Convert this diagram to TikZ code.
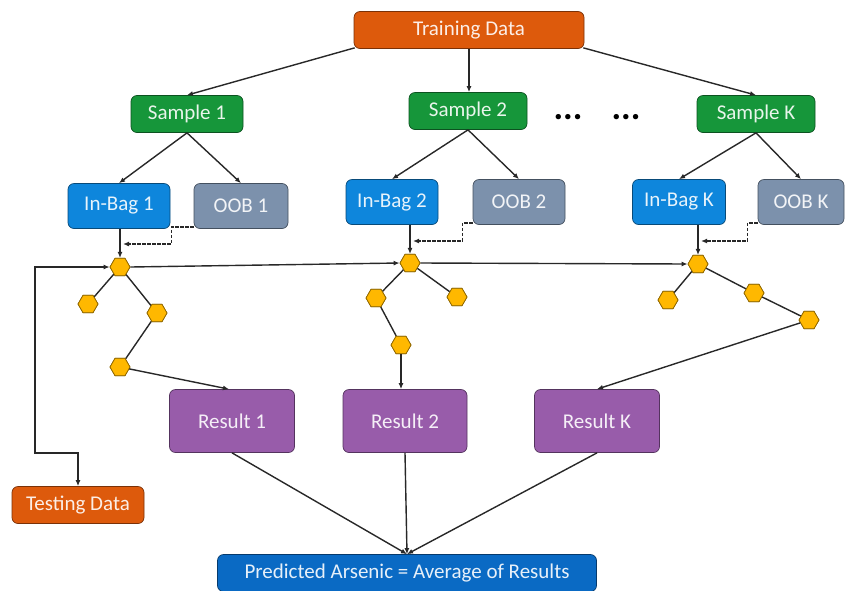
\documentclass[tikz,border=0pt]{standalone}
\usepackage{fontspec}
\setmainfont{Carlito}
\usetikzlibrary{shapes.geometric,arrows.meta,calc}
\definecolor{cOrange}{RGB}{221,90,12}
\definecolor{cGreen}{RGB}{22,150,58}
\definecolor{cBag}{RGB}{14,134,220}
\definecolor{cOob}{RGB}{124,145,172}
\definecolor{cPurple}{RGB}{152,92,170}
\definecolor{cPred}{RGB}{10,106,196}
\definecolor{cHex}{RGB}{255,184,0}
\definecolor{cLine}{RGB}{40,40,40}
\begin{document}
\begin{tikzpicture}[x=1pt,y=-1pt,
  box/.style={rounded corners=6pt, draw=#1!55!black, line width=0.7pt,
    fill=#1, text=#1!10!white, inner sep=0pt,
    font=\fontsize{21}{23}\selectfont},
  hexa/.style={regular polygon, regular polygon sides=6, minimum size=20pt,
    inner sep=0pt, fill=cHex, draw=cHex!55!black, line width=0.7pt},
  link/.style={draw=cLine, line width=1.4pt},
  arr/.style={link, -{Latex[length=6pt,width=5pt]}},
  dsh/.style={arr, dash pattern=on 3.5pt off 1.5pt, line width=1.3pt},
  dots/.style={font=\fontsize{36}{36}\selectfont\bfseries, text=black, inner sep=0pt}
]
\useasboundingbox (0,0) rectangle (845,590);

% data and sample boxes
\node[box=cOrange, minimum width=230pt, minimum height=37pt] (td) at (469,30) {Training Data};
\node[box=cGreen, minimum width=112pt, minimum height=37pt] (s1) at (187,114) {Sample 1};
\node[box=cGreen, minimum width=118pt, minimum height=37pt] (s2) at (468,111) {Sample 2};
\node[box=cGreen, minimum width=118pt, minimum height=37pt] (sK) at (756,114) {Sample K};
\node[dots] (dA) at (568,117) {...};
\node[dots] (dB) at (626,117) {...};

% in-bag and out-of-bag boxes
\node[box=cBag, minimum width=102pt, minimum height=45pt] (ib1) at (119,206) {In-Bag 1};
\node[box=cOob, minimum width=94pt, minimum height=45pt] (oob1) at (241,206) {OOB 1};
\node[box=cBag, minimum width=92pt, minimum height=45pt] (ib2) at (392,202) {In-Bag 2};
\node[box=cOob, minimum width=92pt, minimum height=45pt] (oob2) at (519,202) {OOB 2};
\node[box=cBag, minimum width=93pt, minimum height=45pt] (ibK) at (679,202) {In-Bag K};
\node[box=cOob, minimum width=86pt, minimum height=45pt] (oobK) at (801,202) {OOB K};

% decision trees
\node[hexa] (h1a) at (120,267) {};
\node[hexa] (h1b) at (88,304) {};
\node[hexa] (h1c) at (157,313) {};
\node[hexa] (h1d) at (120,367) {};
\node[hexa] (h2a) at (410,263) {};
\node[hexa] (h2b) at (376,298) {};
\node[hexa] (h2c) at (457,297) {};
\node[hexa] (h2d) at (401,345) {};
\node[hexa] (hKa) at (698,264) {};
\node[hexa] (hKb) at (668,300) {};
\node[hexa] (hKc) at (754,293) {};
\node[hexa] (hKd) at (809,320) {};

% results
\node[box=cPurple, minimum width=125pt, minimum height=63pt] (r1) at (232,421) {Result 1};
\node[box=cPurple, minimum width=124pt, minimum height=63pt] (r2) at (405,421) {Result 2};
\node[box=cPurple, minimum width=125pt, minimum height=63pt] (rK) at (597,421) {Result K};
\node[box=cOrange, minimum width=132pt, minimum height=37pt] (test) at (78,505) {Testing Data};
\node[box=cPred, minimum width=379pt, minimum height=37pt] (pred) at (407,573) {Predicted Arsenic = Average of Results};

% helper points for the dashed feeds and the test loop
\coordinate (m1) at (123,244);
\coordinate (m2) at (413,241);
\coordinate (mK) at (701,241);
\coordinate (lp) at (35,453);

% training data to samples
\draw[arr] ([xshift=1pt,yshift=1pt]td.south west) -- (s1.north);
\draw[arr] (td.south) -- (td.south |- s2.north);
\draw[arr] ([xshift=-1pt,yshift=1pt]td.south east) -- (sK.north);

% samples to bags
\draw[arr] (s1.south) -- (ib1.north);
\draw[arr] (s1.south) -- (oob1.north);
\draw[arr] (s2.south) -- (ib2.north);
\draw[arr] (s2.south) -- (oob2.north);
\draw[arr] (sK.south) -- (ibK.north);
\draw[arr] (sK.south) -- (oobK.north);

% in-bag data grows each tree
\draw[arr] (h1a.north |- ib1.south) -- (h1a.north);
\draw[arr] (h2a.north |- ib2.south) -- (h2a.north);
\draw[arr] (hKa.north |- ibK.south) -- (hKa.north);

% out-of-bag feeds
\draw[dsh] ([yshift=2pt]oob1.south west) -- ++(-22,0) |- (m1);
\draw[dsh] ([yshift=2pt]oob2.south west) -- ++(-10,0) |- (m2);
\draw[dsh] ([yshift=2pt]oobK.south west) -- ++(-10,0) |- (mK);

% chain across the trees and the testing loop
\draw[arr] (h1a.east) -- (h2a.west);
\draw[arr] (h2a.east) -- (hKa.west);
\draw[link, {Latex[length=6pt,width=5pt]}-{Latex[length=6pt,width=5pt]}] (h1a.west) -| (lp) -| (test.north);

% tree branches
\draw[link] (h1a) -- (h1b);
\draw[link] (h1a) -- (h1c);
\draw[link] (h1c) -- (h1d);
\draw[link] (h2a) -- (h2b);
\draw[link] (h2a) -- (h2c);
\draw[link] (h2b) -- (h2d);
\draw[link] (hKa) -- (hKb);
\draw[link] (hKa) -- (hKc);
\draw[link] (hKc) -- (hKd);
\foreach \h in {h1a,h1b,h1c,h1d,h2a,h2b,h2c,h2d,hKa,hKb,hKc,hKd}
  \node[hexa] at (\h) {};

% leaves to results
\draw[arr] (h1d) -- ([xshift=-3pt]r1.north);
\draw[arr] (h2d.south) -- (h2d.south |- r2.north);
\draw[arr] (hKd) -- (rK.north);

% results to the average
\draw[arr] (r1.south) -- (pred.north);
\draw[arr] (r2.south) -- (pred.north);
\draw[arr] (rK.south) -- (pred.north);
\end{tikzpicture}
\end{document}
